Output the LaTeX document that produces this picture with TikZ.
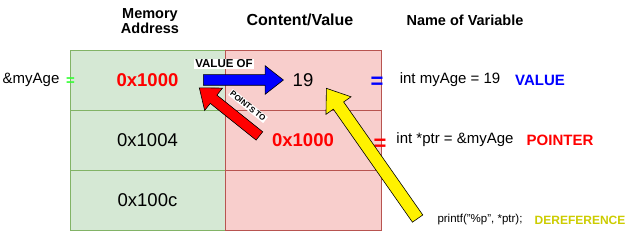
\documentclass[tikz,border=0pt]{standalone}
\usepackage{fontspec}
\setmainfont{Liberation Sans}
\usetikzlibrary{positioning,shapes.arrows}

\definecolor{addrfill}{HTML}{D5E8D4}
\definecolor{addrline}{HTML}{82B366}
\definecolor{cellfill}{HTML}{F8CECC}
\definecolor{cellline}{HTML}{B85450}
\definecolor{derefcol}{HTML}{CCCC00}
\definecolor{eqgreen}{HTML}{33FF33}

\newcommand{\fs}[1]{\fontsize{#1}{#1}\selectfont}

\begin{document}
\begin{tikzpicture}[x=1pt,y=-1pt,node distance=60pt,on grid,
    cell/.style={rectangle,draw,minimum height=60pt,inner sep=0pt,font=\fs{18.5}},
    addr/.style={cell,draw=addrline,fill=addrfill,minimum width=155pt},
    content/.style={cell,draw=cellline,fill=cellfill,minimum width=156pt},
    head/.style={font=\bfseries\fs{14.5},align=center,inner sep=0pt},
    label/.style={font=\fs{15},inner sep=0pt},
    eqsign/.style={font=\bfseries\fs{22},inner sep=0pt},
    blockarrow/.style={single arrow,draw=black,inner xsep=0pt,inner ysep=5pt,line width=0.6pt},
    tag/.style={fill=white,inner sep=1pt,font=\bfseries\fs{11.5}}]
    \useasboundingbox (0,0) rectangle (626,240);

    % column titles
    \node[head] (h_addr) at (150,21) {Memory\\Address};
    \node[head,font=\bfseries\fs{16}] (h_val) at (300,20) {Content/Value};
    \node[head] (h_name) at (465,20) {Name of Variable};

    % memory cells
    \node[addr,text=red,font=\bfseries\fs{18.5}] (a_1) at (147.5,80) {0x1000};
    \node[addr]    (a_2) [below=of a_1] {0x1004};
    \node[addr]    (a_3) [below=of a_2] {0x100c};
    \node[content] (v_1) [right=155.5pt of a_1] {19};
    \node[content,text=red,font=\bfseries\fs{18.5}] (v_2) [below=of v_1] {0x1000};
    \node[content] (v_3) [below=of v_2] {};

    % names on the left and right
    \node[label] (ref) at (31,80) {\&myAge};
    \node[eqsign,text=eqgreen,font=\bfseries\fs{15}] (eq_0) at (70.5,82) {=};
    \node[eqsign,text=blue] (eq_1) at (377,83) {=};
    \node[eqsign,text=red]  (eq_2) at (380,145) {=};
    \node[label] (n_1) at (450,80) {int myAge = 19};
    \node[label,font=\bfseries\fs{15},text=blue] (k_1) [right=90pt of n_1] {VALUE};
    \node[label] (n_2) at (455,140) {int *ptr = \&myAge};
    \node[label,font=\bfseries\fs{15},text=red] (k_2) [right=105pt of n_2] {POINTER};
    \node[label,font=\fs{11.5}] (n_3) at (480,220) {printf("\%p", *ptr);};
    \node[label,font=\bfseries\fs{12},text=derefcol] (k_3) [right=100pt of n_3] {DEREFERENCE};

    % block arrows
    \node[blockarrow,fill=blue,minimum height=80pt,
          single arrow head extend=9pt,single arrow tip angle=76] (valof) at (240,80) {};
    \node[tag] (valof_t) at (224,64) {VALUE OF};
    \node[blockarrow,fill=red,minimum height=77pt,
          single arrow head extend=9pt,single arrow tip angle=76,rotate=141.3] (points) at (232,114) {};
    \node[tag,font=\bfseries\fs{8},rotate=-38.7] (points_t) at (248,106) {POINTS TO};
    \node[blockarrow,fill=yellow,minimum height=159pt,inner ysep=6pt,
          single arrow head extend=9pt,single arrow tip angle=72,rotate=125] (deref) at (374.5,157) {};
\end{tikzpicture}
\end{document}
